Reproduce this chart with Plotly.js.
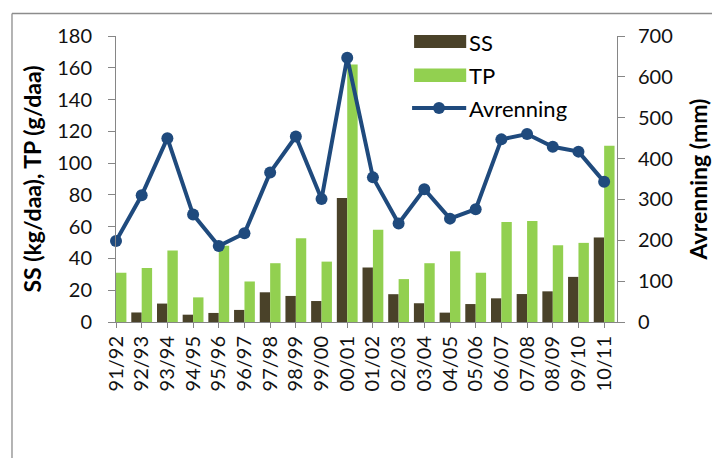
<!DOCTYPE html>
<html>
<head>
<meta charset="utf-8">
<script src="https://cdn.plot.ly/plotly-3.0.1.min.js"></script>
<style>html,body{margin:0;padding:0;background:#fff;}#chart{width:712px;height:458px;}</style>
</head>
<body>
<div id="chart"></div>
<script>
const seasons = ["91/92","92/93","93/94","94/95","95/96","96/97","97/98","98/99","99/00","00/01","01/02","02/03","03/04","04/05","05/06","06/07","07/08","08/09","09/10","10/11"];
const ssValues = [5, 6, 11.6, 4.6, 5.7, 7.6, 18.7, 16.4, 13.2, 78, 34.3, 17.5, 11.8, 5.9, 11.3, 14.9, 17.6, 19.3, 28.4, 53.2];
const tpValues = [31, 34, 45, 15.5, 48, 25.5, 37, 52.7, 38, 162, 58, 27, 37, 44.5, 31, 63, 63.6, 48.3, 49.8, 111];
const avrenning = [198, 310, 450, 263, 186, 217, 366, 454, 301, 647, 354, 241, 325, 253, 276, 447, 460, 429, 417, 343];
const leftTicks = [0,20,40,60,80,100,120,140,160,180];
const rightTicks = [0,100,200,300,400,500,600,700];

const FONT = "Lato, 'Open Sans', sans-serif";
const ssColor = "#4a4229";
const tpColor = "#92d050";
const lineColor = "#1f4a7d";
const axisGray = "#868686";

const traces = [
  {type:"bar", name:"SS", x:seasons, y:ssValues, marker:{color:ssColor}, yaxis:"y", showlegend:false},
  {type:"bar", name:"TP", x:seasons, y:tpValues, marker:{color:tpColor}, yaxis:"y", showlegend:false},
  {type:"scatter", mode:"lines+markers", name:"Avrenning", x:seasons, y:avrenning, yaxis:"y2",
   line:{color:lineColor, width:4}, marker:{color:lineColor, size:12}, cliponaxis:false, showlegend:false}
];

// legend drawn manually (paper coords)
const lx0 = 0.595, lx1 = 0.699;
const shapes = [
  {type:"rect", xref:"paper", yref:"paper", x0:lx0, x1:lx1, y0:0.958, y1:1.0035, fillcolor:ssColor, line:{width:0}},
  {type:"rect", xref:"paper", yref:"paper", x0:lx0, x1:lx1, y0:0.839, y1:0.886, fillcolor:tpColor, line:{width:0}},
  {type:"line", xref:"paper", yref:"paper", x0:lx0-0.004, x1:lx1, y0:0.748, y1:0.748, line:{color:lineColor, width:4}},
  {type:"circle", xref:"paper", yref:"paper", x0:0.6447-0.012, x1:0.6447+0.012, y0:0.748-0.021, y1:0.748+0.021, fillcolor:lineColor, line:{width:0}},
  // outer chart border (top and left edges)
  {type:"line", xref:"paper", yref:"paper", x0:-0.2076, x1:1.3, y0:1.0787, y1:1.0787, line:{color:"#8c8c8c", width:1.3}},
  {type:"line", xref:"paper", yref:"paper", x0:-0.2076, x1:-0.2076, y0:1.0787, y1:-0.6, line:{color:"#8c8c8c", width:1.3}}
];
const annotations = [
  {xref:"paper", yref:"paper", x:lx1+0.002, y:0.978, text:"SS", showarrow:false, xanchor:"left", yanchor:"middle", font:{family:FONT, size:22, color:"#000"}},
  {xref:"paper", yref:"paper", x:lx1+0.002, y:0.862, text:"TP", showarrow:false, xanchor:"left", yanchor:"middle", font:{family:FONT, size:22, color:"#000"}},
  {xref:"paper", yref:"paper", x:lx1+0.002, y:0.748, text:"Avrenning", showarrow:false, xanchor:"left", yanchor:"middle", font:{family:FONT, size:22, color:"#000"}}
];

const layout = {
  width:712, height:458,
  margin:{l:116, r:95, t:36, b:136.3, pad:0},
  paper_bgcolor:"#fff", plot_bgcolor:"#fff",
  font:{family:FONT, size:20, color:"#111"},
  barmode:"group", bargap:0.19, bargroupgap:0,
  showlegend:false,
  xaxis:{type:"category", range:[0,19.5], showline:true, linecolor:axisGray, linewidth:1,
         ticks:"outside", ticklen:5, tickcolor:axisGray, tickangle:-90, showgrid:false,
         tickfont:{family:FONT, size:20, color:"#111"}, fixedrange:true},
  yaxis:{range:[0,180], tickvals:leftTicks, ticktext:leftTicks.map(String), showline:true, linecolor:axisGray, linewidth:1,
         ticks:"outside", ticklen:7, tickcolor:axisGray, showgrid:false, zeroline:false, ticklabelstandoff:12,
         tickfont:{family:FONT, size:20, color:"#111"},
         title:{text:"<b>SS (kg/daa), TP (g/daa)</b>", standoff:9, font:{family:FONT, size:23, color:"#000"}}},
  yaxis2:{range:[0,700], tickvals:rightTicks, ticktext:rightTicks.map(String), overlaying:"y", side:"right", showline:true, linecolor:axisGray, linewidth:1,
         ticks:"outside", ticklen:7, tickcolor:axisGray, showgrid:false, zeroline:false, ticklabelstandoff:9,
         tickfont:{family:FONT, size:20, color:"#111"},
         title:{text:"<b>Avrenning (mm)</b>", standoff:20, font:{family:FONT, size:23, color:"#000"}}},
  shapes:shapes,
  annotations:annotations
};

Plotly.newPlot("chart", traces, layout, {staticPlot:true, displayModeBar:false});
</script>
</body>
</html>
